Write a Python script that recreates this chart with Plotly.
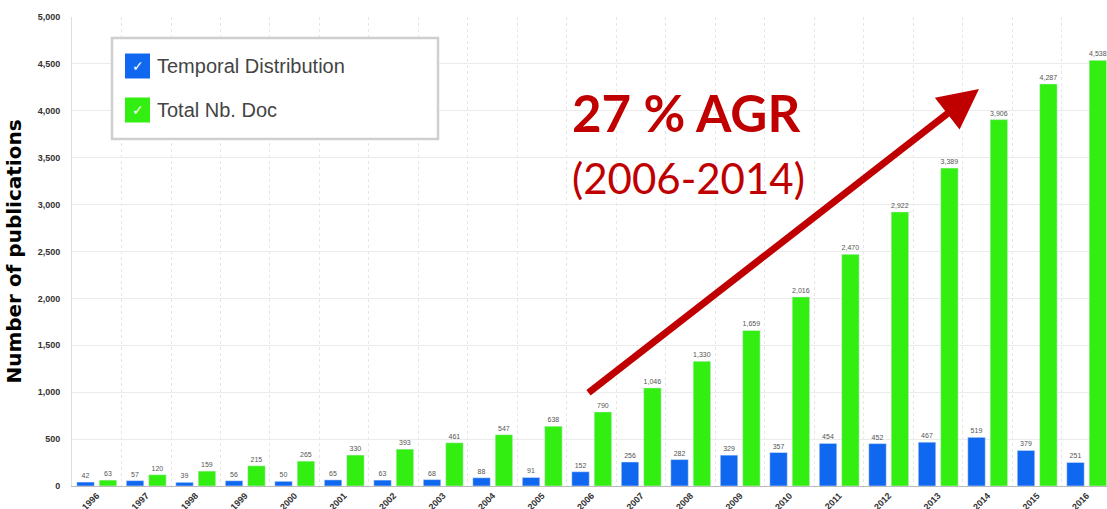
import plotly.graph_objects as go

years = [str(y) for y in range(1996, 2017)]
temporal = [42, 57, 39, 56, 50, 65, 63, 68, 88, 91, 152, 256, 282, 329, 357, 454, 452, 467, 519, 379, 251]
total_docs = [63, 120, 159, 215, 265, 330, 393, 461, 547, 638, 790, 1046, 1330, 1659, 2016, 2470, 2922, 3389, 3906, 4287, 4538]

BLUE = "#1068F0"
GREEN = "#33EE11"
RED = "#C00000"

W, H = 1107, 509
PLOT_L, PLOT_R, PLOT_T, PLOT_B = 72, 1107, 17, 486


def px(x):
    return (x - PLOT_L) / (PLOT_R - PLOT_L)


def py(y):
    return (PLOT_B - y) / (PLOT_B - PLOT_T)


bar_text = dict(size=7, color="#555", family="Liberation Sans")

fig = go.Figure()
fig.add_trace(go.Bar(
    x=years, y=temporal, name="Temporal Distribution", marker_color=BLUE,
    texttemplate="%{y:,}", textposition="outside", textfont=bar_text,
    constraintext="none", cliponaxis=False,
))
fig.add_trace(go.Bar(
    x=years, y=total_docs, name="Total Nb. Doc", marker_color=GREEN,
    texttemplate="%{y:,}", textposition="outside", textfont=bar_text,
    constraintext="none", cliponaxis=False,
))

fig.update_layout(
    width=W, height=H,
    margin=dict(l=PLOT_L, r=W - PLOT_R, t=PLOT_T, b=H - PLOT_B),
    paper_bgcolor="white", plot_bgcolor="white",
    barmode="group", bargap=0.095, bargroupgap=0.22,
    showlegend=False,
    font=dict(family="Liberation Sans", color="#333"),
)

fig.update_xaxes(
    type="category", range=[-0.5, 20.41], tickangle=-45, automargin=False,
    tickson="boundaries", ticks="",
    showgrid=True, gridcolor="#e6e6e6", griddash="dot",
    showline=True, linecolor="#bbb", linewidth=1,
    tickfont=dict(size=9, color="#333", weight="bold"),
)
fig.update_yaxes(
    range=[0, 5000], dtick=500, tickformat=",", automargin=False,
    showgrid=True, gridcolor="#ebebeb", zeroline=False,
    showline=True, linecolor="#ddd", linewidth=1,
    ticks="", ticklabelstandoff=9,
    tickfont=dict(size=9, color="#333", weight="bold"),
    title=dict(text="Number of publications", standoff=10,
               font=dict(size=20, color="black", family="DejaVu Sans", weight="bold")),
)

# legend box drawn as in the original
fig.add_shape(type="rect", xref="paper", yref="paper",
              x0=px(112), x1=px(438), y0=py(38), y1=py(139),
              line=dict(color="#cfcfcf", width=2.5), fillcolor="white")
for name, color, cy in [("Temporal Distribution", BLUE, 66), ("Total Nb. Doc", GREEN, 110)]:
    fig.add_shape(type="rect", xref="paper", yref="paper",
                  x0=px(125), x1=px(150), y0=py(cy - 12.5), y1=py(cy + 12.5),
                  line=dict(color=color, width=0), fillcolor=color)
    fig.add_annotation(xref="paper", yref="paper", x=px(137.5), y=py(cy),
                       text="✓", showarrow=False, xanchor="center", yanchor="middle",
                       font=dict(size=14, color="white", family="DejaVu Sans", weight="bold"))
    fig.add_annotation(xref="paper", yref="paper", x=px(155), y=py(cy),
                       text=name, showarrow=False, xanchor="left", yanchor="middle",
                       font=dict(size=20, color="#444", family="Liberation Sans"))

# growth arrow and label
fig.add_annotation(xref="paper", yref="paper", x=px(979), y=py(89),
                   ax=587 - 979, ay=394 - 89, text="", showarrow=True,
                   arrowhead=2, arrowsize=1.15, arrowwidth=7, arrowcolor=RED)
fig.add_annotation(xref="paper", yref="paper", x=px(686), y=py(112),
                   text="27 % AGR", showarrow=False, xanchor="center", yanchor="middle",
                   font=dict(size=51, color=RED, family="Lato", weight="bold"))
fig.add_annotation(xref="paper", yref="paper", x=px(688), y=py(178),
                   text="(2006-2014)", showarrow=False, xanchor="center", yanchor="middle",
                   font=dict(size=42, color=RED, family="Lato"))

fig.write_html("out.html", config={"displayModeBar": False},
               post_script="document.body.style.margin='0';")
